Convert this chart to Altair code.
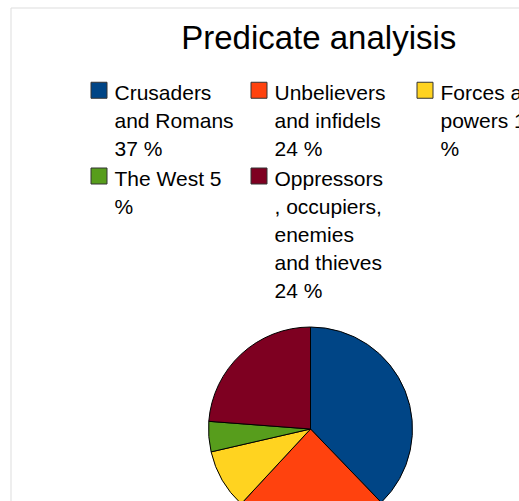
import altair as alt
import pandas as pd

# ---- data ----
categories = [
    "Crusaders and Romans",
    "Unbelievers and infidels",
    "Forces and powers",
    "The West",
    "Oppressors, occupiers, enemies and thieves",
]
shares = [37.8, 24.1, 9.5, 4.8, 23.8]
legend_lines = [
    ["Crusaders", "and Romans", "37 %"],
    ["Unbelievers\u2800", "and infidels", "24 %"],
    ["Forces and", "powers 10", "%"],
    ["The West 5", "%", "", "", ""],
    ["Oppressors", ", occupiers,", "enemies", "and thieves", "24 %"],
]
colors = ["#004586", "#ff420e", "#ffd320", "#579d1c", "#7e0021"]

df = pd.DataFrame({"category": categories, "share": shares, "idx": list(range(len(categories)))})

# label expression: map each category to its wrapped legend lines
expr = "''"
for cat, lines in reversed(list(zip(categories, legend_lines))):
    arr = "[" + ",".join("'" + l.replace("'", "\\'") + "'" for l in lines) + "]"
    expr = f"datum.label == '{cat}' ? {arr} : ({expr})"

FONT = "Liberation Sans"

pie = alt.Chart(df).mark_arc(
    outerRadius=102, stroke="black", strokeWidth=1, clip=True
).encode(
    theta=alt.Theta("share:Q", stack=True),
    order=alt.Order("idx:Q"),
    x=alt.value(300),
    y=alt.value(421.5),
    color=alt.Color(
        "category:N",
        scale=alt.Scale(domain=categories, range=colors),
        legend=alt.Legend(
            title=None,
            orient="none",
            direction="horizontal",
            legendX=78,
            legendY=72,
            columns=3,
            columnPadding=14,
            rowPadding=5,
            gridAlign="each",
            symbolType="square",
            symbolSize=256,
            symbolStrokeColor="#333333",
            symbolStrokeWidth=1,
            labelFont=FONT,
            labelFontSize=21,
            labelColor="black",
            labelOffset=5,
            labelLimit=400,
            labelBaseline="alphabetic",
            labelExpr=expr,
            padding=0,
        ),
    ),
)

chart = pie.properties(
    width=508.5,
    height=493.5,
    padding={"left": 10.5, "top": 7.5, "right": 0, "bottom": 0},
    autosize=alt.AutoSizeParams(type="none"),
    title=alt.TitleParams(
        "Predicate analyisis",
        font=FONT,
        fontSize=33,
        fontWeight="normal",
        color="black",
        anchor="middle",
        baseline="alphabetic",
        offset=-42,
        dy=32,
        dx=54,
    ),
).configure_view(
    stroke="black", strokeWidth=1
).configure(
    background="white",
    style={"guide-label": {"lineHeight": 28, "dy": 10}},
)

chart.save("out.html", embed_options={"renderer": "svg", "actions": False})
